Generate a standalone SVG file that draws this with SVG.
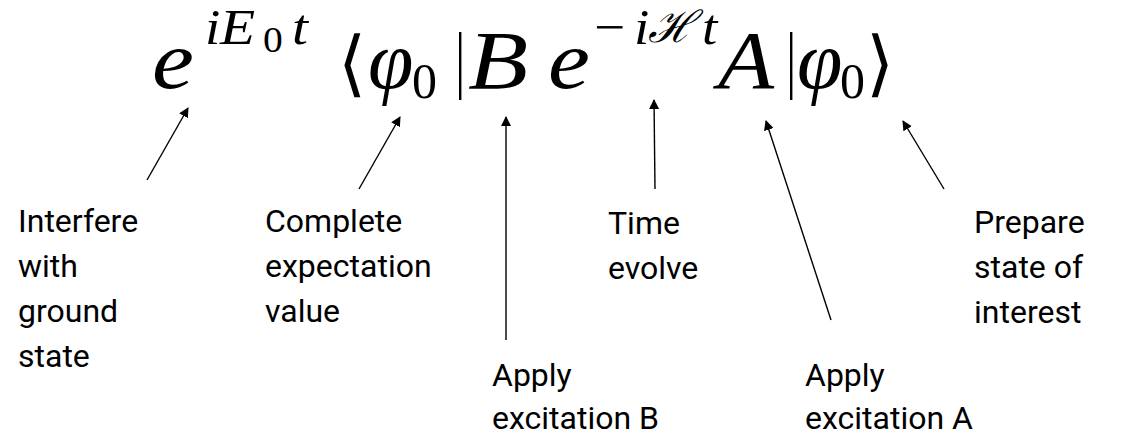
<svg xmlns="http://www.w3.org/2000/svg" width="1131" height="438" viewBox="0 0 1131 438">
<style>
.lbl{font-family:Roboto,"Liberation Sans",sans-serif;font-size:32px;fill:#000}
.m{font-family:"Liberation Serif","DejaVu Serif",serif;font-style:italic;fill:#000}
.u{font-family:"Liberation Serif","DejaVu Serif",serif;font-style:normal;fill:#000}
.s{font-family:"DejaVu Sans",sans-serif;font-style:normal;fill:#000}
.big{font-size:82px}
.sup{font-size:50px}
.c line{stroke:#000;stroke-width:1.4}
</style>
<defs>
<marker id="ah" viewBox="0 0 10 10" refX="9" refY="5" markerWidth="10" markerHeight="10" markerUnits="userSpaceOnUse" orient="auto">
<path d="M0,0 L10,5 L0,10 z" fill="#000"/>
</marker>
</defs>
<rect width="1131" height="438" fill="#fff"/>
<g id="formula">
<text class="m big" transform="translate(152,88) scale(1.15,1)">e</text>
<text class="m sup" transform="translate(205,44) scale(1.1,1)">i</text>
<text class="m sup" transform="translate(220,44) scale(1.15,1)">E</text>
<text class="u" font-size="36" transform="translate(263,52) scale(1.1,1)">0</text>
<text class="m sup" transform="translate(292,44) scale(1.15,1)">t</text>
<text class="s" font-size="72" transform="translate(338,88)">⟨</text>
<text class="m big" transform="translate(368,88)">φ</text>
<text class="u sup" transform="translate(412,98)">0</text>
<rect x="459" y="32" width="2.4" height="68" fill="#000"/>
<text class="m big" transform="translate(468,88) scale(1.2,1)">B</text>
<text class="m big" transform="translate(548,88) scale(1.15,1)">e</text>
<text class="u sup" transform="translate(594,44) scale(1.1,1)">−</text>
<text class="m sup" transform="translate(634,44) scale(1.1,1)">i</text>
<text class="m" font-size="44" transform="translate(648,42)">ℋ</text>
<text class="m sup" transform="translate(702,44) scale(1.1,1)">t</text>
<text class="m big" transform="translate(718,88) scale(1.12,1)">A</text>
<rect x="790" y="32" width="2.4" height="68" fill="#000"/>
<text class="m big" transform="translate(797,88)">φ</text>
<text class="u sup" transform="translate(840,98)">0</text>
<text class="s" font-size="72" transform="translate(866,88)">⟩</text>
</g>
<g class="c" id="connectors">
<line x1="147" y1="180" x2="188" y2="108" marker-end="url(#ah)"/>
<line x1="359" y1="189" x2="400" y2="117" marker-end="url(#ah)"/>
<line x1="506" y1="340" x2="506" y2="117" marker-end="url(#ah)"/>
<line x1="655" y1="189" x2="654" y2="100" marker-end="url(#ah)"/>
<line x1="831" y1="320" x2="766" y2="121" marker-end="url(#ah)"/>
<line x1="944" y1="189" x2="903" y2="121" marker-end="url(#ah)"/>
</g>
<g id="n-interfere"><text class="lbl"><tspan x="18" y="232">Interfere</tspan><tspan x="18" y="277">with</tspan><tspan x="18" y="322">ground</tspan><tspan x="18" y="367">state</tspan></text></g>
<g id="n-complete"><text class="lbl"><tspan x="265" y="232">Complete</tspan><tspan x="265" y="277">expectation</tspan><tspan x="265" y="322">value</tspan></text></g>
<g id="n-time"><text class="lbl"><tspan x="608" y="234">Time</tspan><tspan x="608" y="279">evolve</tspan></text></g>
<g id="n-prepare"><text class="lbl"><tspan x="974" y="233">Prepare</tspan><tspan x="974" y="278">state of</tspan><tspan x="974" y="323">interest</tspan></text></g>
<g id="n-applyB"><text class="lbl"><tspan x="492" y="386">Apply</tspan><tspan x="492" y="429">excitation B</tspan></text></g>
<g id="n-applyA"><text class="lbl"><tspan x="805" y="386">Apply</tspan><tspan x="805" y="429">excitation A</tspan></text></g>
</svg>
